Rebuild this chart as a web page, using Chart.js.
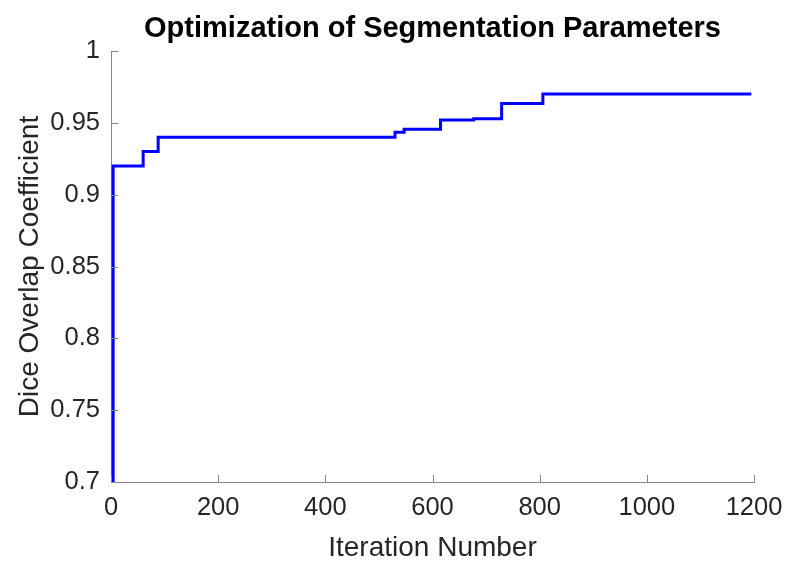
<!DOCTYPE html>
<html>
<head>
<meta charset="utf-8">
<script src="https://cdn.jsdelivr.net/npm/chart.js@4/dist/chart.umd.min.js"></script>
<style>
  html, body { margin: 0; padding: 0; background: #fff; }
  #wrap { width: 800px; height: 573px; }
</style>
</head>
<body>
<div id="wrap"><canvas id="chart" width="800" height="573"></canvas></div>
<script>
// DATA - iterations where the best dice value changes
const iterations = [1, 4, 60, 88, 530, 547, 615, 677, 729, 806, 1195];
const diceValues = [0.6, 0.92, 0.93, 0.94, 0.9435, 0.9456, 0.952, 0.9528, 0.9635, 0.97, 0.97];
const xTicks = [0, 200, 400, 600, 800, 1000, 1200];
const yTicks = [0.7, 0.75, 0.8, 0.85, 0.9, 0.95, 1];
const chartTitle = "Optimization of Segmentation Parameters";

const axisColor = "#858585";
const textColor = "#262626";
const font = "Liberation Sans, Arial, sans-serif";

// MATLAB style ticks pointing inward + title centred over the axes
const matlabBits = {
  id: "matlabBits",
  afterDraw(chart) {
    const { ctx, chartArea, scales } = chart;
    ctx.save();
    ctx.strokeStyle = axisColor;
    ctx.lineWidth = 1;
    ctx.beginPath();
    xTicks.forEach((v) => {
      const px = Math.round(scales.x.getPixelForValue(v)) + 0.5;
      ctx.moveTo(px, chartArea.bottom);
      ctx.lineTo(px, chartArea.bottom - 7);
    });
    yTicks.forEach((v) => {
      const py = Math.round(scales.y.getPixelForValue(v)) + 0.5;
      ctx.moveTo(chartArea.left, py);
      ctx.lineTo(chartArea.left + 7, py);
    });
    ctx.stroke();

    ctx.fillStyle = "#000";
    ctx.font = "bold 29px " + font;
    ctx.textAlign = "center";
    ctx.textBaseline = "alphabetic";
    ctx.fillText(chartTitle, (chartArea.left + chartArea.right) / 2, 37);
    ctx.restore();
  },
};

const data = {
  datasets: [
    {
      data: iterations.map((x, i) => ({ x: x, y: diceValues[i] })),
      borderColor: "#0000ff",
      borderWidth: 3,
      pointRadius: 0,
      stepped: true,
      fill: false,
    },
  ],
};

const config = {
  type: "line",
  data: data,
  options: {
    responsive: false,
    animation: false,
    layout: { padding: { top: 51, left: 0, right: 46, bottom: 0 } },
    scales: {
      x: {
        type: "linear",
        min: 0,
        max: 1200,
        afterBuildTicks: (s) => { s.ticks = xTicks.map((v) => ({ value: v })); },
        afterFit: (s) => { s.height = 91; },
        grid: { display: false, drawTicks: false },
        border: { display: true, color: axisColor, width: 1 },
        ticks: {
          color: textColor,
          font: { family: font, size: 25.5 },
          padding: 11,
          maxRotation: 0,
          callback: (v) => String(v),
        },
        title: {
          display: true,
          text: "Iteration Number",
          color: textColor,
          font: { family: font, size: 28 },
          padding: { top: 0, bottom: 8 },
        },
      },
      y: {
        min: 0.7,
        max: 1,
        afterBuildTicks: (s) => { s.ticks = yTicks.map((v) => ({ value: v })); },
        afterFit: (s) => { s.width = 111; },
        grid: { display: false, drawTicks: false },
        border: { display: true, color: axisColor, width: 1 },
        ticks: {
          color: textColor,
          font: { family: font, size: 25.5 },
          padding: 11,
          callback: (v) => String(v),
        },
        title: {
          display: true,
          text: "Dice Overlap Coefficient",
          color: textColor,
          font: { family: font, size: 28 },
          padding: { top: 13, bottom: 0 },
        },
      },
    },
    plugins: {
      legend: { display: false },
      tooltip: { enabled: false },
      title: { display: false },
    },
  },
  plugins: [matlabBits],
};

const chart = new Chart(document.getElementById("chart"), config);
</script>
</body>
</html>
